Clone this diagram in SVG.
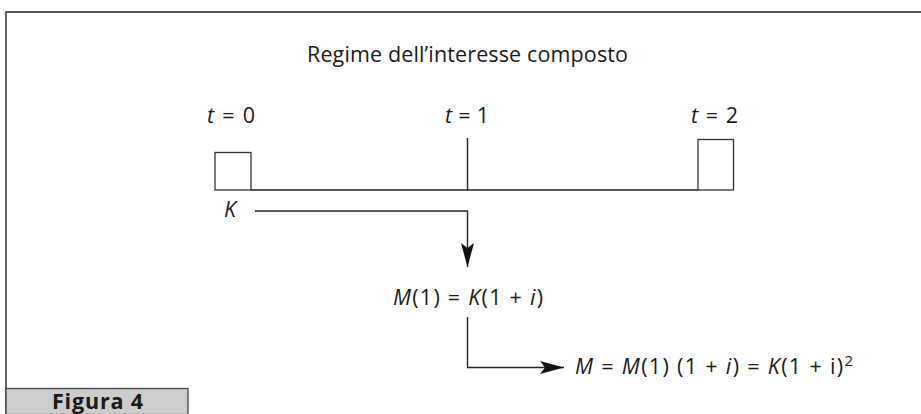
<svg xmlns="http://www.w3.org/2000/svg" width="921" height="414" viewBox="0 0 921 414">
<style>
text{font-family:"Open Sans","Noto Sans","Liberation Sans",sans-serif;fill:#1a1a1a;font-size:21.5px}
.it{font-style:italic}
.ln{stroke:#222;stroke-width:1.4;fill:none}
.box{stroke:#333;stroke-width:1.3;fill:#fff}
</style>
<defs>
<marker id="ah" viewBox="0 0 24 13" refX="24" refY="6.5" markerWidth="24" markerHeight="13" markerUnits="userSpaceOnUse" orient="auto">
<path d="M0,0 L24,6.5 L0,13 L5,6.5 Z" fill="#111"/>
</marker>
</defs>
<rect width="921" height="414" fill="#fff"/>
<g id="frame">
<path class="ln" d="M6,414 V12 H921"/>
</g>
<g id="title"><text x="307" y="62" textLength="321" lengthAdjust="spacing">Regime dell’interesse composto</text></g>
<g id="timeline">
<line class="ln" x1="251" y1="190" x2="698" y2="190"/>
<line class="ln" x1="467.5" y1="138" x2="467.5" y2="190"/>
</g>
<g id="t0"><text x="207" y="123" textLength="48" lengthAdjust="spacing"><tspan class="it">t</tspan> = 0</text><rect class="box" x="215" y="152.5" width="36" height="37.5"/></g>
<g id="t1"><text x="445" y="123" textLength="44" lengthAdjust="spacing"><tspan class="it">t</tspan> = 1</text></g>
<g id="t2"><text x="691" y="123" textLength="47" lengthAdjust="spacing"><tspan class="it">t</tspan> = 2</text><rect class="box" x="698" y="139.5" width="35.5" height="50.5"/></g>
<g id="K"><text x="224" y="217" class="it">K</text></g>
<g id="M1"><text x="393" y="305" textLength="150" lengthAdjust="spacing"><tspan class="it">M</tspan>(1) = <tspan class="it">K</tspan>(1 + <tspan class="it">i</tspan>)</text></g>
<g id="M2"><text x="575" y="374" textLength="278" lengthAdjust="spacing"><tspan class="it">M</tspan> = <tspan class="it">M</tspan>(1) (1 + <tspan class="it">i</tspan>) = <tspan class="it">K</tspan>(1 + i)<tspan dy="-8" font-size="15">2</tspan></text></g>
<g id="connectors">
<path class="ln" d="M255,211 H467.5 V267" marker-end="url(#ah)"/>
<path class="ln" d="M467.5,317 V367.5 H564" marker-end="url(#ah)"/>
</g>
<g id="caption">
<rect x="6" y="388.5" width="182" height="26" fill="#ccc" stroke="#444" stroke-width="1.3"/>
<text x="52" y="409" textLength="91" lengthAdjust="spacing" font-weight="bold" font-size="19">Figura 4</text>
</g>
</svg>
